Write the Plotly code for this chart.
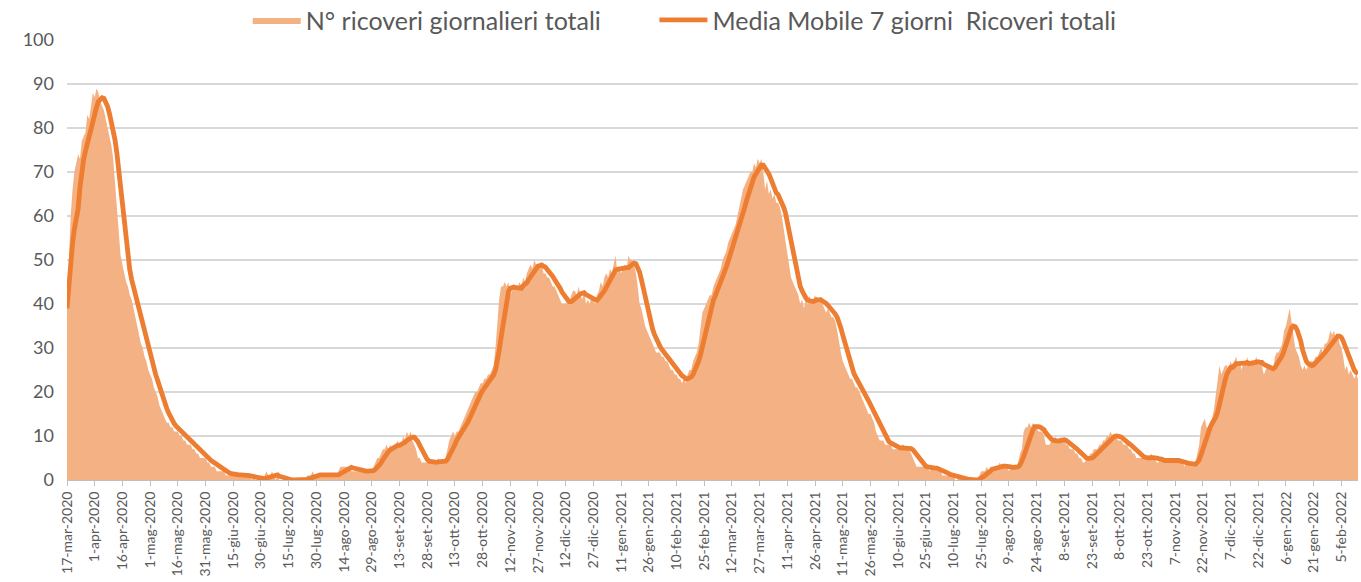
import pandas as pd
import plotly.graph_objects as go

start_date = "2020-03-17"

# N° ricoveri giornalieri totali (one value per day, 15 days per row)
ricoveri_giornalieri = [
    39, 50, 60, 66, 70, 72, 74, 73, 77, 78, 79, 83, 82, 85, 88,
    87, 89, 88, 86, 85, 84, 82, 80, 78, 76, 73, 68, 63, 56, 51,
    49, 47, 45, 44, 42, 41, 39, 37, 35, 33, 31, 30, 28, 27, 25,
    24, 23, 21, 20, 19, 17, 16, 15, 14, 13, 13, 12, 12, 11, 11,
    11, 10, 10, 9, 9, 8, 8, 8, 7, 7, 6, 6, 5, 5, 5,
    5, 4, 4, 3, 3, 3, 2, 2, 2, 2, 2, 1, 1, 1, 1,
    1, 1, 2, 1, 1, 1, 1, 1, 1, 1, 0, 1, 0, 0, 0,
    0, 0, 1, 2, 1, 1, 2, 1, 0, 1, 0, 0, 0, 0, 0,
    0, 0, 0, 0, 0, 0, 0, 0, 0, 0, 1, 1, 1, 2, 1,
    1, 1, 1, 1, 1, 1, 1, 1, 1, 1, 1, 1, 2, 3, 3,
    3, 3, 3, 3, 2, 2, 2, 2, 2, 2, 2, 2, 2, 2, 2,
    2, 3, 4, 5, 5, 6, 7, 7, 8, 7, 8, 7, 8, 8, 9,
    8, 8, 10, 9, 11, 10, 11, 9, 8, 7, 5, 5, 4, 4, 4,
    4, 4, 4, 4, 4, 4, 5, 4, 4, 4, 5, 7, 9, 10, 11,
    10, 11, 11, 12, 13, 14, 15, 16, 17, 18, 19, 20, 20, 21, 22,
    22, 23, 23, 24, 24, 25, 26, 30, 36, 41, 44, 44, 45, 44, 45,
    42, 43, 44, 43, 44, 45, 44, 46, 45, 47, 48, 49, 48, 50, 49,
    49, 48, 49, 47, 47, 46, 46, 45, 44, 44, 43, 42, 41, 40, 40,
    40, 41, 40, 42, 43, 43, 42, 44, 42, 41, 43, 40, 41, 40, 42,
    41, 40, 42, 43, 45, 44, 46, 47, 46, 48, 47, 49, 51, 47, 48,
    47, 48, 49, 48, 51, 50, 50, 49, 47, 44, 40, 39, 37, 35, 34,
    33, 32, 31, 30, 29, 29, 29, 28, 28, 27, 27, 26, 25, 25, 24,
    24, 23, 23, 22, 23, 22, 24, 25, 25, 27, 28, 29, 31, 34, 38,
    39, 40, 41, 42, 42, 44, 45, 46, 47, 48, 50, 51, 52, 54, 55,
    56, 57, 58, 60, 62, 64, 66, 67, 68, 69, 70, 70, 72, 71, 73,
    72, 73, 70, 66, 68, 65, 66, 64, 65, 63, 63, 62, 60, 57, 55,
    51, 48, 46, 45, 44, 43, 42, 40, 41, 39, 41, 40, 42, 40, 41,
    42, 41, 40, 41, 40, 39, 38, 39, 38, 37, 37, 36, 34, 31, 29,
    27, 26, 25, 24, 23, 23, 22, 21, 21, 20, 19, 18, 17, 16, 15,
    15, 14, 13, 11, 10, 9, 9, 9, 8, 8, 8, 8, 7, 7, 7,
    7, 7, 8, 8, 7, 7, 7, 6, 5, 4, 3, 3, 3, 3, 3,
    3, 3, 2, 3, 3, 2, 3, 2, 2, 1, 1, 1, 1, 1, 1,
    1, 0, 0, 1, 0, 0, 0, 0, 0, 0, 0, 0, 0, 0, 1,
    2, 2, 2, 3, 2, 3, 3, 3, 3, 3, 4, 3, 3, 3, 3,
    2, 3, 3, 3, 3, 4, 6, 7, 11, 12, 12, 13, 12, 13, 12,
    12, 11, 11, 11, 10, 8, 8, 8, 9, 9, 10, 9, 9, 9, 9,
    9, 8, 8, 7, 7, 7, 6, 6, 5, 5, 4, 4, 5, 5, 6,
    6, 7, 7, 7, 8, 8, 9, 9, 10, 10, 11, 10, 10, 10, 9,
    9, 9, 8, 8, 8, 7, 7, 6, 6, 5, 5, 5, 5, 5, 5,
    5, 5, 6, 5, 5, 4, 4, 5, 4, 4, 5, 5, 5, 4, 5,
    4, 4, 4, 4, 4, 3, 4, 4, 3, 4, 3, 4, 6, 8, 12,
    13, 14, 12, 12, 13, 14, 16, 19, 22, 26, 24, 25, 26, 26, 25,
    27, 26, 27, 28, 26, 27, 25, 27, 26, 28, 26, 27, 26, 27, 28,
    26, 27, 26, 24, 25, 26, 25, 26, 25, 28, 29, 29, 30, 31, 34,
    35, 37, 39, 36, 33, 30, 29, 28, 26, 25, 26, 25, 26, 27, 27,
    27, 28, 28, 29, 30, 29, 31, 31, 32, 34, 33, 34, 32, 33, 31,
    30, 28, 25, 26, 24, 25, 24, 23, 24, 23,
]

tick_labels = [
    "17-mar-2020", "1-apr-2020", "16-apr-2020", "1-mag-2020", "16-mag-2020",
    "31-mag-2020", "15-giu-2020", "30-giu-2020", "15-lug-2020", "30-lug-2020",
    "14-ago-2020", "29-ago-2020", "13-set-2020", "28-set-2020", "13-ott-2020",
    "28-ott-2020", "12-nov-2020", "27-nov-2020", "12-dic-2020", "27-dic-2020",
    "11-gen-2021", "26-gen-2021", "10-feb-2021", "25-feb-2021", "12-mar-2021",
    "27-mar-2021", "11-apr-2021", "26-apr-2021", "11-mag-2021", "26-mag-2021",
    "10-giu-2021", "25-giu-2021", "10-lug-2021", "25-lug-2021", "9-ago-2021",
    "24-ago-2021", "8-set-2021", "23-set-2021", "8-ott-2021", "23-ott-2021",
    "7-nov-2021", "22-nov-2021", "7-dic-2021", "22-dic-2021", "6-gen-2022",
    "21-gen-2022", "5-feb-2022",
]

series_names = ["N° ricoveri giornalieri totali", "Media Mobile 7 giorni \u00a0Ricoveri totali"]

dates = pd.date_range(start_date, periods=len(ricoveri_giornalieri), freq="D")
media_mobile = pd.Series(ricoveri_giornalieri).rolling(7, min_periods=1).mean()
tick_vals = dates[::15][: len(tick_labels)]

font_family = "Lato, 'Open Sans', sans-serif"
text_color = "#595959"
legend_font = dict(size=25, color=text_color, family=font_family)

fig = go.Figure()
fig.add_trace(go.Scatter(
    x=dates, y=ricoveri_giornalieri, name=series_names[0],
    mode="lines", line=dict(width=0, color="#F4B183"),
    fill="tozeroy", fillcolor="#F4B183", legend="legend",
))
fig.add_trace(go.Scatter(
    x=dates, y=media_mobile, name=series_names[1],
    mode="lines", line=dict(width=4.8, color="#ED7D31"), legend="legend2",
))

fig.update_layout(
    width=1361, height=582,
    margin=dict(l=67, r=3, t=40, b=102, autoexpand=False),
    paper_bgcolor="white", plot_bgcolor="white",
    font=dict(family=font_family, color=text_color),
    showlegend=True,
    legend=dict(
        orientation="h", x=0.14, xanchor="left", y=1.045, yanchor="middle",
        font=legend_font, bgcolor="rgba(0,0,0,0)", itemwidth=48,
    ),
    legend2=dict(
        orientation="h", x=0.455, xanchor="left", y=1.045, yanchor="middle",
        font=legend_font, bgcolor="rgba(0,0,0,0)", itemwidth=48,
    ),
    xaxis=dict(
        type="date", range=[dates[0], dates[-1]],
        tickmode="array", tickvals=tick_vals, ticktext=tick_labels,
        tickangle=-90, tickfont=dict(size=14, color=text_color),
        ticks="outside", ticklen=5, tickcolor="#BFBFBF", tickwidth=1,
        showgrid=False, showline=True, linecolor="#BFBFBF", linewidth=1,
        automargin=False, zeroline=False,
    ),
    yaxis=dict(
        range=[0, 100], dtick=10, tick0=0,
        tickfont=dict(size=18, color=text_color),
        showgrid=True, gridcolor="#D9D9D9", gridwidth=1.5,
        zeroline=False, showline=False, ticks="", ticklabelstandoff=12,
        automargin=False,
    ),
)

fig.write_html(
    "out.html",
    config={"displayModeBar": False},
    post_script="document.body.style.margin='0px';document.body.style.overflow='hidden';",
)
